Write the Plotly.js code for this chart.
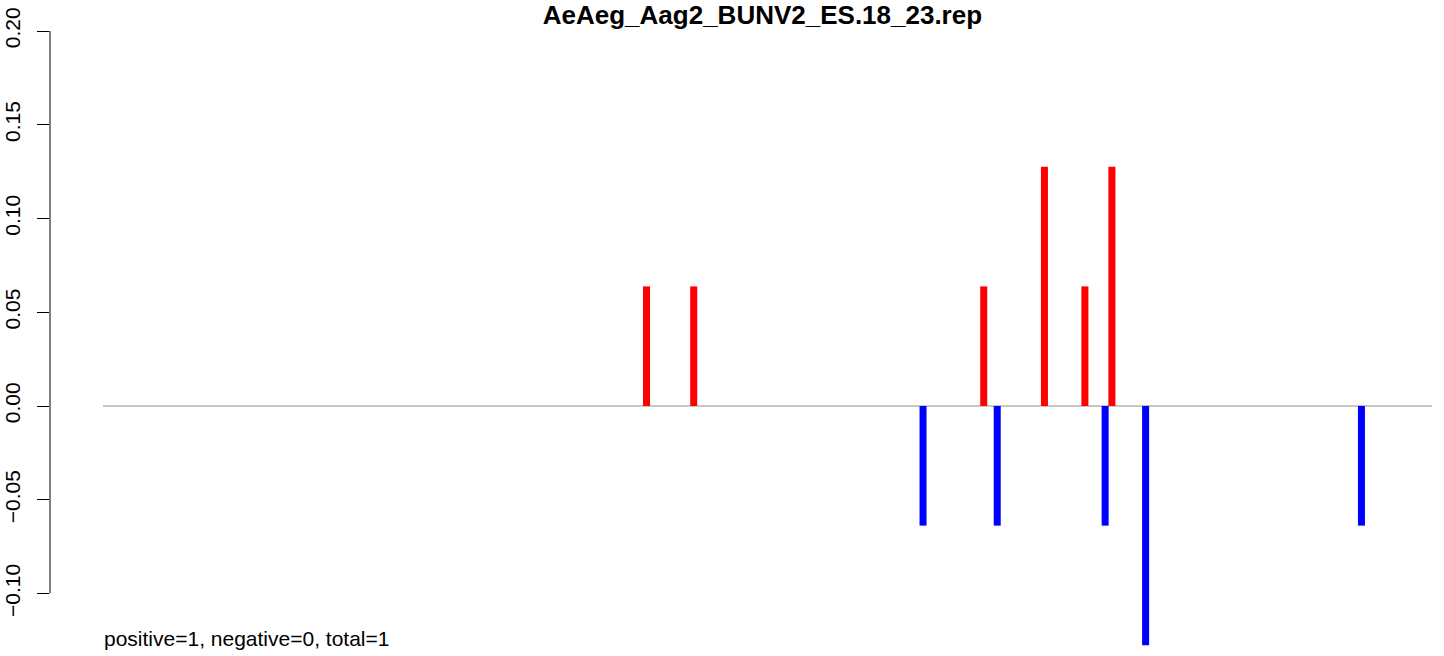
<!DOCTYPE html>
<html>
<head>
<meta charset="utf-8">
<script src="https://cdn.plot.ly/plotly-3.0.1.min.js"></script>
<style>html,body{margin:0;padding:0;background:#fff;}#chart{width:1444px;height:656px;}</style>
</head>
<body>
<div id="chart"></div>
<script>
// Data
var chartTitle = "AeAeg_Aag2_BUNV2_ES.18_23.rep";
var positivePositions = [81, 88, 131, 140, 146, 150];
var positiveValues = [0.0638, 0.0638, 0.0638, 0.1276, 0.0638, 0.1276];
var negativePositions = [122, 133, 149, 155, 187];
var negativeValues = [-0.0638, -0.0638, -0.0638, -0.1276, -0.0638];
var yTickValues = [-0.10, -0.05, 0.00, 0.05, 0.10, 0.15, 0.20];
var yTickLabels = ["\u22120.10", "\u22120.05", "0.00", "0.05", "0.10", "0.15", "0.20"];
var footerText = "positive=1, negative=0, total=1";

var FONT = "Liberation Sans, Arial, Helvetica, sans-serif";

var traces = [
  {type: "bar", x: positivePositions, y: positiveValues, width: 1.04,
   marker: {color: "#ff0000", line: {width: 0}}, hoverinfo: "x+y"},
  {type: "bar", x: negativePositions, y: negativeValues, width: 1.04,
   marker: {color: "#0000ff", line: {width: 0}}, hoverinfo: "x+y"}
];

var layout = {
  width: 1444, height: 656,
  margin: {l: 50, r: 0, t: 20, b: 6},
  paper_bgcolor: "#ffffff", plot_bgcolor: "#ffffff",
  showlegend: false,
  barmode: "overlay",
  font: {family: FONT, color: "#000000", size: 21},
  title: {text: "<b>" + chartTitle + "</b>", font: {family: FONT, size: 26, color: "#000"},
          x: 0.528, xref: "container", xanchor: "center", y: 0.991, yref: "container", yanchor: "top"},
  xaxis: {range: [-7.44, 199.24], visible: false, showgrid: false, zeroline: false, fixedrange: true},
  yaxis: {range: [-0.13013, 0.20587], showgrid: false, zeroline: false, showline: false,
          tickmode: "array", tickvals: yTickValues, ticktext: yTickLabels,
          ticks: "outside", ticklen: 12, tickwidth: 1, tickcolor: "#000",
          tickangle: -90, tickfont: {family: FONT, size: 21, color: "#000"},
          ticklabelstandoff: 9, fixedrange: true},
  shapes: [
    {type: "line", xref: "paper", yref: "y", x0: 0, x1: 0, y0: -0.10, y1: 0.20,
     line: {color: "#000", width: 1}},
    {type: "line", xref: "paper", yref: "y", x0: 0.038, x1: 0.9914, y0: 0, y1: 0,
     line: {color: "#8c8c8c", width: 1}, layer: "below"}
  ],
  annotations: [
    {text: footerText, xref: "paper", yref: "paper", x: 0.0380, y: 0.019,
     xanchor: "left", yanchor: "middle", showarrow: false, borderpad: 0,
     font: {family: FONT, size: 21, color: "#000"}}
  ]
};

Plotly.newPlot("chart", traces, layout, {displayModeBar: false, staticPlot: true});
</script>
</body>
</html>
